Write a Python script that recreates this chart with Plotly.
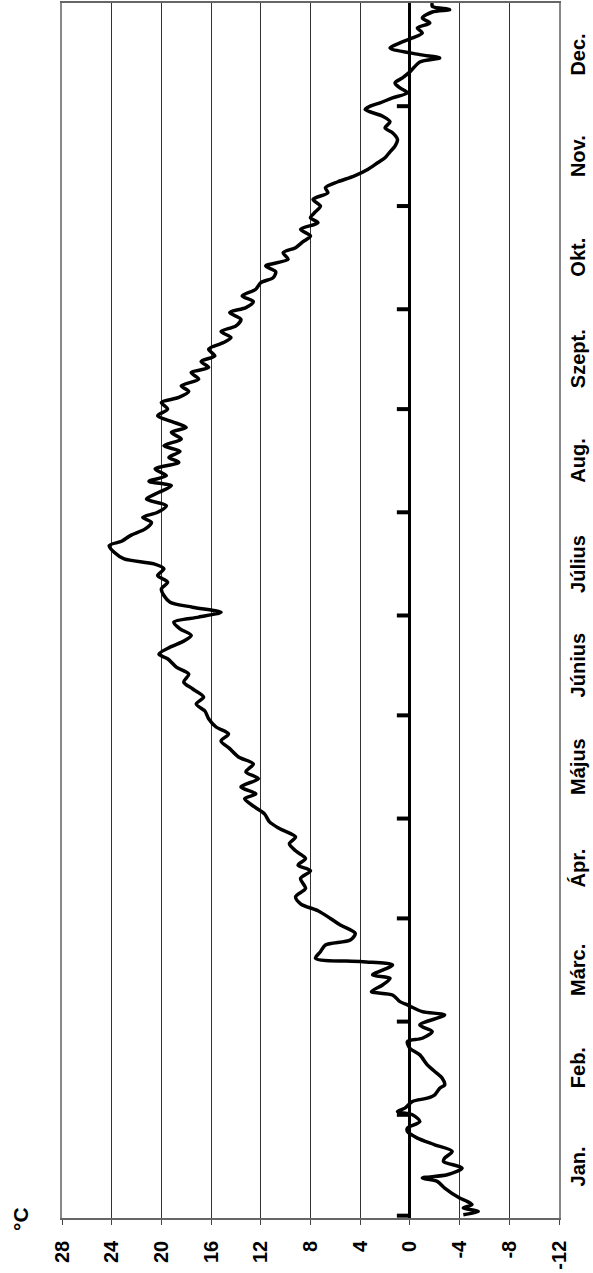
import plotly.graph_objects as go

# Daily mean temperature (°C), day of year -> value
days = [1, 2, 3, 4, 5, 6, 9, 11, 12, 13, 15, 17, 18, 20, 22, 24, 26, 27, 29, 31,
        32, 33, 35, 36, 37, 39, 40, 42, 44, 46, 49, 51, 53, 54, 56, 58,
        61, 62, 64, 65, 67, 68, 70, 72, 73, 76, 77, 78, 80, 82, 83.5, 85.5, 88, 90,
        92.3, 94.4, 96.5, 99, 102, 104.3, 106, 108, 110.3, 112.4, 114.5, 117, 119, 121.4,
        123.5, 126, 127.4, 129.5, 132, 134, 136.4, 138.5, 141, 143.3, 145.4, 147.5, 150,
        152.3, 154.4, 156.5, 159, 161, 163.4, 165.5, 168, 169.4, 171.5, 173.3, 175, 177, 179, 180.5, 182,
        183.5, 185, 187, 189, 191, 193, 195, 196.5, 198, 200, 202, 203.3, 205, 207, 209, 210.5,
        212, 214, 216, 218, 220, 221.3, 223, 225, 227, 228.5, 230.3, 232, 234, 236, 237.5, 239.3, 241, 243,
        245, 246.5, 248.3, 250, 252, 254, 255.5, 257.3, 259, 261, 263, 264.5, 266.3, 268, 270, 272,
        273.5, 275.3, 277, 279, 281, 282.5, 284.3, 286, 288, 290, 291.5, 293.3, 295, 297, 299, 300.5, 302.3,
        304, 306, 308, 309.5, 311.3, 313, 315, 317, 318.5, 320.3, 322, 324, 326, 327.5, 329.3, 331, 333, 334,
        335, 336.5, 338, 339.5, 341, 342.5, 344.3, 347.3, 348.5, 349.5, 351.5, 353, 354.5, 356, 357.5,
        359, 360.5, 362.3, 363, 364, 365]
temps = [-4.3, -5.5, -4.3, -5.0, -4.6, -4.0, -2.8, -2.2, -1.0, -3.0, -4.2, -2.7, -2.8, -3.4, -2.0, -0.6, 0.2, 0.2, -0.8, -0.2,
         1.0, 0.4, -0.2, -1.4, -2.0, -2.4, -2.8, -2.6, -2.0, -1.4, -0.8, 0.0, 0.2, -1.0, -1.8, -0.8,
         -2.8, -1.0, 0.2, 0.8, 1.4, 3.1, 2.2, 1.6, 3.0, 1.4, 3.8, 7.6, 7.2, 6.8, 4.8, 4.4, 5.6, 6.4,
         7.4, 8.8, 9.2, 8.4, 8.8, 8.0, 9.0, 8.4, 9.2, 9.7, 9.2, 10.5, 11.3, 11.7,
         12.5, 13.3, 12.4, 13.6, 12.2, 13.2, 12.6, 13.8, 14.5, 15.2, 14.6, 15.6, 16.2,
         16.5, 17.2, 16.6, 17.5, 18.2, 17.8, 18.8, 19.5, 20.2, 19.3, 18.2, 17.6, 18.5, 19.0, 17.0, 15.2,
         17.5, 19.3, 19.8, 20.0, 19.5, 20.3, 19.8, 20.6, 23.0, 23.8, 24.2, 23.2, 22.5, 21.3, 20.8, 21.5,
         20.3, 19.6, 21.2, 20.2, 19.2, 21.0, 19.6, 20.5, 18.6, 19.4, 18.5, 19.8, 18.4, 19.2, 18.0, 19.2, 20.3, 19.5,
         20.0, 18.6, 17.8, 18.4, 17.0, 17.6, 16.2, 16.8, 15.7, 16.2, 15.0, 14.4, 15.2, 14.0, 13.6, 14.5,
         13.2, 12.6, 13.5, 12.4, 12.0, 11.0, 10.8, 11.6, 9.8, 10.2, 9.2, 8.6, 8.0, 8.8, 7.4, 8.0, 7.6,
         7.2, 7.8, 6.6, 6.8, 5.8, 4.5, 3.4, 2.6, 2.0, 1.6, 1.2, 1.0, 1.4, 2.0, 1.6, 2.2, 3.6, 3.2,
         2.4, 1.4, 0.2, 0.8, 1.2, 0.6, 0.0, -0.8, -2.4, -0.8, 1.6, 0.8, -0.2, -1.0, -0.6,
         -1.6, -1.0, -1.8, -3.2, -1.8, -1.8]

months = ["Jan.", "Feb.", "Márc.", "Ápr.", "Május", "Június", "Július",
          "Aug.", "Szept.", "Okt.", "Nov.", "Dec."]
month_lengths = [31, 28, 31, 30, 31, 30, 31, 31, 30, 31, 30, 31]
temp_ticks = [28, 24, 20, 16, 12, 8, 4, 0, -4, -8, -12]

month_starts = []
acc = 0
for L in month_lengths:
    month_starts.append(acc)
    acc += L
month_centers = [s + L / 2 for s, L in zip(month_starts, month_lengths)]

FONT = "Arial, 'Liberation Sans', Helvetica, sans-serif"

# plot-area geometry in pixels
W, H = 593, 1273
L_, R_, T_, B_ = 62, 559, 3, 1218

fig = go.Figure()

# month tick marks on the zero line
tx, ty = [], []
for s in month_starts:
    yy = s if s > 0 else 0.7
    tx += [0, 1.05, None]
    ty += [yy, yy, None]
fig.add_trace(go.Scatter(x=tx, y=ty, mode="lines",
                         line=dict(color="black", width=4), hoverinfo="skip",
                         showlegend=False))

fig.add_trace(go.Scatter(x=temps, y=days, mode="lines",
                         line=dict(color="black", width=3.5, shape="spline", smoothing=0.8),
                         showlegend=False))

annotations = []
for name, c in zip(months, month_centers):
    annotations.append(dict(text="<b>" + name + "</b>", x=(578 - L_) / (R_ - L_), y=c,
                            xref="paper", yref="y", showarrow=False, textangle=-90,
                            xanchor="center", yanchor="middle",
                            font=dict(family=FONT, size=20, color="black")))
annotations.append(dict(text="<b>°C</b>", x=(20 - L_) / (R_ - L_), y=(B_ - 1219) / (B_ - T_),
                        xref="paper", yref="paper", showarrow=False, textangle=-90,
                        xanchor="center", yanchor="middle",
                        font=dict(family=FONT, size=21, color="black")))

fig.update_layout(
    width=W, height=H,
    margin=dict(l=L_, r=W - R_, t=T_, b=H - B_, autoexpand=False),
    plot_bgcolor="white", paper_bgcolor="white",
    font=dict(family=FONT, size=20, color="black"),
    xaxis=dict(range=[28, -12], tickvals=temp_ticks, ticktext=["<b>%d</b>" % v for v in temp_ticks],
               tickangle=-90, tickfont=dict(family=FONT, size=20, color="black"),
               ticks="outside", ticklen=5, tickcolor="#444", tickwidth=1,
               ticklabelstandoff=8,
               showgrid=True, gridcolor="#333", gridwidth=1,
               zeroline=True, zerolinecolor="black", zerolinewidth=3,
               showline=True, linecolor="#666", linewidth=1.5, mirror=True),
    yaxis=dict(range=[0, 365], showticklabels=False,
               ticks="", showgrid=False, zeroline=False,
               showline=True, linecolor="#888", linewidth=1.5, mirror=True),
    annotations=annotations,
)

fig.write_html("out.html", config={"displayModeBar": False},
               post_script="document.body.style.margin='0px';document.body.style.padding='0px';")
